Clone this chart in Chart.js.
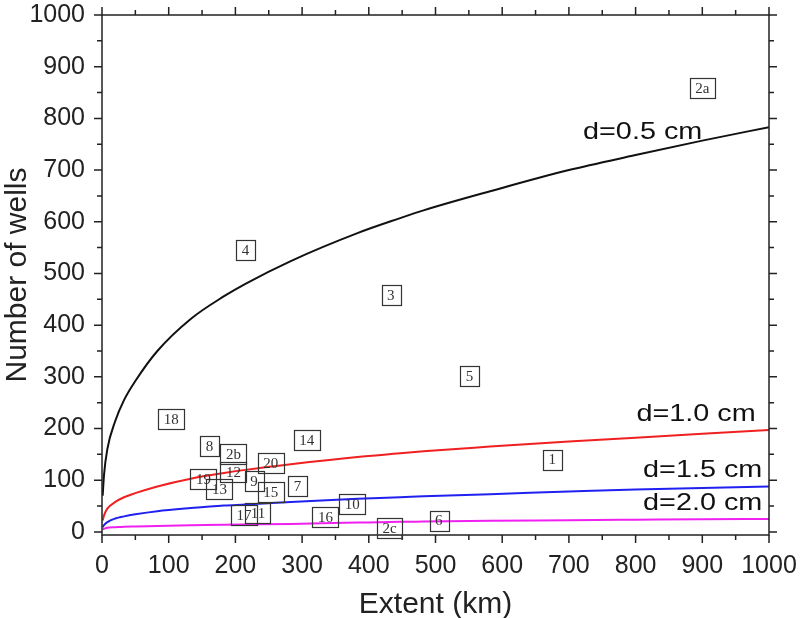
<!DOCTYPE html>
<html>
<head>
<meta charset="utf-8">
<script src="https://cdn.jsdelivr.net/npm/chart.js@4.4.0/dist/chart.umd.min.js"></script>
<style>
  body { margin: 0; background: #fff; }
  #wrap { width: 800px; height: 618px; position: relative; }
</style>
</head>
<body>
<div id="wrap"><canvas id="graph_canvas"></canvas></div>
<script>
// tick labels
var xTicks = [0, 100, 200, 300, 400, 500, 600, 700, 800, 900, 1000];
var yTicks = [0, 100, 200, 300, 400, 500, 600, 700, 800, 900, 1000];

// curve samples (extent in km)
var extent = [1, 3, 8, 20, 33, 50, 83, 133, 183, 215, 283, 383, 447, 482, 582, 700, 800, 900, 1000];
var wells_d05 = [70, 110, 160, 215, 255, 292, 350, 412, 456, 480, 524, 578, 607, 622, 659, 700, 729, 757, 783];
var wells_d10 = [22, 32, 45, 58, 67, 75, 88, 103, 114, 120, 131, 145, 152, 156, 165, 175, 182, 190, 197];
var wells_d15 = [9, 13, 19, 26, 30, 34, 40, 46, 51, 53, 58, 64, 67, 69, 73, 78, 82, 85, 88];
var wells_d20 = [5, 6, 8, 9, 10, 10.5, 11.5, 13, 14, 14.5, 15.5, 18, 19.5, 20, 21.5, 22.5, 23.5, 24.5, 25];

// field cases
var caseNames = ['1', '2a', '2b', '2c', '3', '4', '5', '6', '7', '8', '9', '10', '11', '12', '13', '14', '15', '16', '17', '18', '19', '20'];
var caseExtent = [675, 900, 197, 431, 433, 215, 551, 505, 293, 161, 228, 375, 234, 197, 176, 307, 253, 335, 213, 104, 152, 253];
var caseWells = [140, 858, 151, 8, 459, 545, 301, 22, 88, 167, 99, 54, 36, 115, 83, 178, 78, 28, 33, 219, 102, 133];

// curve captions: text, right end (km), centre (wells)
var curveNames = ['d=0.5 cm', 'd=1.0 cm', 'd=1.5 cm', 'd=2.0 cm'];
var nameExtent = [900, 980, 990, 990];
var nameWells = [772, 228, 119, 56];

function pts(xs, ys) {
  return xs.map(function (x, i) { return { x: x, y: ys[i] }; });
}

function curve(label, values, color) {
  return {
    type: 'line',
    label: label,
    data: pts(extent, values),
    borderColor: color,
    borderWidth: 2,
    pointRadius: 0,
    fill: false,
    cubicInterpolationMode: 'monotone'
  };
}

var frame = {
  id: 'frame',
  afterDatasetsDraw: function (chart) {
    var ctx = chart.ctx, a = chart.chartArea;
    var xs = chart.scales.x, ys = chart.scales.y;
    ctx.save();
    ctx.strokeStyle = '#222';
    ctx.lineWidth = 1.5;
    ctx.strokeRect(a.left, a.top, a.right - a.left, a.bottom - a.top);

    // major + minor ticks, pointing outward on all four sides
    ctx.beginPath();
    xTicks.forEach(function (v, i) {
      var px = xs.getPixelForValue(v);
      ctx.moveTo(px, a.bottom); ctx.lineTo(px, a.bottom + 8);
      ctx.moveTo(px, a.top); ctx.lineTo(px, a.top - 8);
      if (i < xTicks.length - 1) {
        var mx = xs.getPixelForValue((v + xTicks[i + 1]) / 2);
        ctx.moveTo(mx, a.bottom); ctx.lineTo(mx, a.bottom + 5);
        ctx.moveTo(mx, a.top); ctx.lineTo(mx, a.top - 5);
      }
    });
    yTicks.forEach(function (v, i) {
      var py = ys.getPixelForValue(v);
      ctx.moveTo(a.left, py); ctx.lineTo(a.left - 8, py);
      ctx.moveTo(a.right, py); ctx.lineTo(a.right + 8, py);
      if (i < yTicks.length - 1) {
        var my = ys.getPixelForValue((v + yTicks[i + 1]) / 2);
        ctx.moveTo(a.left, my); ctx.lineTo(a.left - 5, my);
        ctx.moveTo(a.right, my); ctx.lineTo(a.right + 5, my);
      }
    });
    ctx.stroke();

    // boxed case numbers
    var meta = chart.getDatasetMeta(4);
    ctx.font = '15px "Liberation Serif", serif';
    ctx.textAlign = 'center';
    ctx.textBaseline = 'middle';
    ctx.fillStyle = '#333';
    ctx.strokeStyle = '#333';
    ctx.lineWidth = 1.2;
    meta.data.forEach(function (p, i) {
      var t = caseNames[i];
      var w = ctx.measureText(t).width + 11, h = 20;
      ctx.strokeRect(Math.round(p.x - w / 2) + 0.5, Math.round(p.y - h / 2) + 0.5, Math.round(w), h);
      ctx.fillText(t, p.x, p.y + 1);
    });

    // curve captions
    ctx.font = '24px "Liberation Sans", Arial, sans-serif';
    ctx.fillStyle = '#111';
    ctx.textAlign = 'right';
    curveNames.forEach(function (t, i) {
      ctx.save();
      ctx.translate(xs.getPixelForValue(nameExtent[i]), ys.getPixelForValue(nameWells[i]));
      ctx.scale(1.2, 1);
      ctx.fillText(t, 0, 0);
      ctx.restore();
    });
    ctx.restore();
  }
};

var tickFont = { family: '"Liberation Sans", Arial', size: 25 };
var titleFont = { family: '"Liberation Sans", Arial', size: 30 };

window.onload = function () {
  var graph_ctx = document.getElementById('graph_canvas').getContext('2d');
  window.wells_graph = new Chart(graph_ctx, {
    data: {
      datasets: [
        curve('d=0.5 cm', wells_d05, '#111111'),
        curve('d=1.0 cm', wells_d10, '#f02020'),
        curve('d=1.5 cm', wells_d15, '#2020f0'),
        curve('d=2.0 cm', wells_d20, '#f020f0'),
        {
          type: 'scatter',
          label: 'cases',
          data: pts(caseExtent, caseWells),
          pointRadius: 0,
          clip: false
        }
      ]
    },
    options: {
      responsive: true,
      maintainAspectRatio: false,
      animation: false,
      layout: { padding: { top: 15, right: 31, left: 0, bottom: 0 } },
      plugins: { legend: { display: false }, tooltip: { enabled: false } },
      scales: {
        x: {
          type: 'linear',
          min: 0,
          max: 1000,
          afterBuildTicks: function (s) { s.ticks = xTicks.map(function (v) { return { value: v }; }); },
          afterFit: function (s) { s.height = 83; s.paddingLeft = 0; s.paddingRight = 0; },
          grid: { display: false, drawTicks: false },
          border: { display: false },
          ticks: {
            padding: 16, color: '#222', font: tickFont, maxRotation: 0, autoSkip: false,
            callback: function (v) { return String(v); }
          },
          title: { display: true, text: 'Extent (km)', color: '#222', padding: { top: 0, bottom: -5 }, font: titleFont }
        },
        y: {
          type: 'linear',
          min: -6,
          max: 1000,
          afterBuildTicks: function (s) { s.ticks = yTicks.map(function (v) { return { value: v }; }); },
          afterFit: function (s) { s.width = 102; s.paddingTop = 0; s.paddingBottom = 0; },
          grid: { display: false, drawTicks: false },
          border: { display: false },
          ticks: {
            padding: 17, color: '#222', font: tickFont, autoSkip: false,
            callback: function (v) { return String(v); }
          },
          title: { display: true, text: 'Number of wells', color: '#222', padding: 0, font: titleFont }
        }
      }
    },
    plugins: [frame]
  });
};
</script>
</body>
</html>
